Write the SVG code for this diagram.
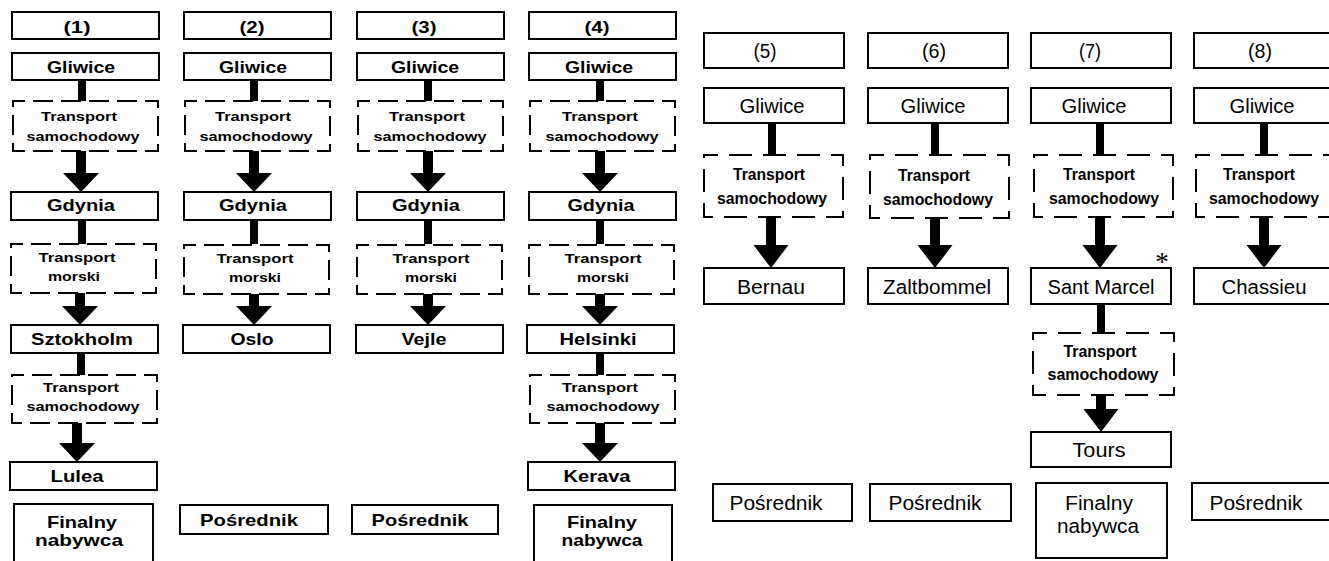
<svg xmlns="http://www.w3.org/2000/svg" width="1329" height="561" viewBox="0 0 1329 561">
  <style>
    .box { fill: #fff; stroke: #000; stroke-width: 2; }
    .dl { fill: #fff; stroke: #000; stroke-width: 2; stroke-dasharray: 20 8; stroke-dashoffset: 8; }
    .dr { fill: #fff; stroke: #000; stroke-width: 2; stroke-dasharray: 23 11; stroke-dashoffset: 9; }
    .bar { stroke: #000; stroke-width: 8; }
    .shaft { stroke: #000; stroke-width: 10; }
    text { font-family: "Liberation Sans", Arial, sans-serif; fill: #000; text-anchor: middle; }
    .lh { font-size: 16px; font-weight: bold; }
    .lc { font-size: 16px; font-weight: bold; }
    .lt { font-size: 13px; font-weight: bold; }
    .lf { font-size: 17px; font-weight: bold; }
    .rh { font-size: 20px; }
    .rc { font-size: 20px; }
    .rt { font-size: 16px; font-weight: bold; }
    .ast { font-family: "Liberation Serif", serif; font-size: 27px; }
  </style>
  <defs>
    <marker id="headL" markerUnits="userSpaceOnUse" markerWidth="40" markerHeight="40" refX="0" refY="0" viewBox="0 -20 20 40" orient="auto" overflow="visible">
      <path d="M0,-18 L19,0 L0,18 Z" fill="#000"/>
    </marker>
    <marker id="headR" markerUnits="userSpaceOnUse" markerWidth="40" markerHeight="40" refX="0" refY="0" viewBox="0 -20 24 40" orient="auto" overflow="visible">
      <path d="M0,-17.5 L23,0 L0,17.5 Z" fill="#000"/>
    </marker>
  </defs>

  <!-- connectors: solid bars leave a place, arrows enter the next one -->
  <g id="connectors">
    <!-- route 1 -->
    <line class="bar" x1="82" y1="80" x2="82" y2="101"/>
    <line class="shaft" x1="81" y1="151" x2="81" y2="173" marker-end="url(#headL)"/>
    <line class="bar" x1="82" y1="220" x2="82" y2="244"/>
    <line class="shaft" x1="80" y1="293" x2="80" y2="306" marker-end="url(#headL)"/>
    <line class="bar" x1="81" y1="353" x2="81" y2="375"/>
    <line class="shaft" x1="77" y1="423" x2="77" y2="443" marker-end="url(#headL)"/>
    <!-- route 2 -->
    <line class="bar" x1="254" y1="80" x2="254" y2="101"/>
    <line class="shaft" x1="254" y1="151" x2="254" y2="173" marker-end="url(#headL)"/>
    <line class="bar" x1="254" y1="220" x2="254" y2="244"/>
    <line class="shaft" x1="254" y1="293" x2="254" y2="306" marker-end="url(#headL)"/>
    <!-- route 3 -->
    <line class="bar" x1="428" y1="80" x2="428" y2="101"/>
    <line class="shaft" x1="428" y1="151" x2="428" y2="173" marker-end="url(#headL)"/>
    <line class="bar" x1="428" y1="220" x2="428" y2="244"/>
    <line class="shaft" x1="428" y1="293" x2="428" y2="306" marker-end="url(#headL)"/>
    <!-- route 4 -->
    <line class="bar" x1="600" y1="80" x2="600" y2="101"/>
    <line class="shaft" x1="600" y1="151" x2="600" y2="173" marker-end="url(#headL)"/>
    <line class="bar" x1="600" y1="220" x2="600" y2="244"/>
    <line class="shaft" x1="600" y1="293" x2="600" y2="306" marker-end="url(#headL)"/>
    <line class="bar" x1="600" y1="353" x2="600" y2="375"/>
    <line class="shaft" x1="600" y1="423" x2="600" y2="443" marker-end="url(#headL)"/>
    <!-- route 5 -->
    <line class="bar" x1="772" y1="123" x2="772" y2="155"/>
    <line class="shaft" x1="771" y1="217" x2="771" y2="245" marker-end="url(#headR)"/>
    <!-- route 6 -->
    <line class="bar" x1="935" y1="123" x2="935" y2="155"/>
    <line class="shaft" x1="935" y1="218" x2="935" y2="245" marker-end="url(#headR)"/>
    <!-- route 7 -->
    <line class="bar" x1="1100" y1="123" x2="1100" y2="155"/>
    <line class="shaft" x1="1100" y1="217" x2="1100" y2="245" marker-end="url(#headR)"/>
    <line class="bar" x1="1101" y1="304" x2="1101" y2="333"/>
    <line class="shaft" x1="1101" y1="395" x2="1101" y2="409" marker-end="url(#headR)"/>
    <!-- route 8 -->
    <line class="bar" x1="1264" y1="123" x2="1264" y2="155"/>
    <line class="shaft" x1="1264" y1="217" x2="1264" y2="245" marker-end="url(#headR)"/>
  </g>

  <!-- route 1 -->
  <g id="r1-head"><rect class="box" x="12" y="12" width="147" height="27"/><text class="lh" x="77" y="33" textLength="27" lengthAdjust="spacingAndGlyphs">(1)</text></g>
  <g id="r1-gliwice"><rect class="box" x="12" y="53" width="147" height="27"/><text class="lc" x="81" y="73" textLength="68" lengthAdjust="spacingAndGlyphs">Gliwice</text></g>
  <g id="r1-road1"><rect class="dl" x="13" y="101" width="145" height="50"/><text class="lt" x="79" y="121" textLength="76" lengthAdjust="spacingAndGlyphs">Transport</text><text class="lt" x="83" y="141" textLength="113" lengthAdjust="spacingAndGlyphs">samochodowy</text></g>
  <g id="r1-gdynia"><rect class="box" x="11" y="192" width="147" height="28"/><text class="lc" x="81" y="211" textLength="68" lengthAdjust="spacingAndGlyphs">Gdynia</text></g>
  <g id="r1-sea"><rect class="dl" x="11" y="244" width="145" height="49"/><text class="lt" x="77" y="262" textLength="77" lengthAdjust="spacingAndGlyphs">Transport</text><text class="lt" x="74" y="281" textLength="52" lengthAdjust="spacingAndGlyphs">morski</text></g>
  <g id="r1-sztokholm"><rect class="box" x="11" y="325" width="147" height="28"/><text class="lc" x="82" y="345" textLength="102" lengthAdjust="spacingAndGlyphs">Sztokholm</text></g>
  <g id="r1-road2"><rect class="dl" x="12" y="375" width="145" height="48"/><text class="lt" x="81" y="392" textLength="76" lengthAdjust="spacingAndGlyphs">Transport</text><text class="lt" x="83" y="411" textLength="113" lengthAdjust="spacingAndGlyphs">samochodowy</text></g>
  <g id="r1-lulea"><rect class="box" x="10" y="462" width="147" height="28"/><text class="lc" x="77" y="482" textLength="53" lengthAdjust="spacingAndGlyphs">Lulea</text></g>
  <g id="r1-buyer"><rect class="box" x="14" y="504" width="139" height="62"/><text class="lf" x="82" y="528" textLength="70" lengthAdjust="spacingAndGlyphs">Finalny</text><text class="lf" x="79" y="546" textLength="88" lengthAdjust="spacingAndGlyphs">nabywca</text></g>

  <!-- route 2 -->
  <g id="r2-head"><rect class="box" x="184" y="12" width="147" height="27"/><text class="lh" x="252" y="33" textLength="25" lengthAdjust="spacingAndGlyphs">(2)</text></g>
  <g id="r2-gliwice"><rect class="box" x="184" y="53" width="147" height="27"/><text class="lc" x="253" y="73" textLength="68" lengthAdjust="spacingAndGlyphs">Gliwice</text></g>
  <g id="r2-road"><rect class="dl" x="185" y="101" width="145" height="50"/><text class="lt" x="253" y="121" textLength="76" lengthAdjust="spacingAndGlyphs">Transport</text><text class="lt" x="256" y="141" textLength="113" lengthAdjust="spacingAndGlyphs">samochodowy</text></g>
  <g id="r2-gdynia"><rect class="box" x="184" y="192" width="147" height="28"/><text class="lc" x="253" y="211" textLength="68" lengthAdjust="spacingAndGlyphs">Gdynia</text></g>
  <g id="r2-sea"><rect class="dl" x="184" y="245" width="145" height="49"/><text class="lt" x="255" y="263" textLength="77" lengthAdjust="spacingAndGlyphs">Transport</text><text class="lt" x="255" y="282" textLength="52" lengthAdjust="spacingAndGlyphs">morski</text></g>
  <g id="r2-oslo"><rect class="box" x="183" y="325" width="147" height="28"/><text class="lc" x="252" y="345" textLength="43" lengthAdjust="spacingAndGlyphs">Oslo</text></g>
  <g id="r2-agent"><rect class="box" x="180" y="505" width="148" height="29"/><text class="lf" x="249" y="526" textLength="98" lengthAdjust="spacingAndGlyphs">Pośrednik</text></g>

  <!-- route 3 -->
  <g id="r3-head"><rect class="box" x="357" y="12" width="147" height="27"/><text class="lh" x="424" y="33" textLength="25" lengthAdjust="spacingAndGlyphs">(3)</text></g>
  <g id="r3-gliwice"><rect class="box" x="357" y="53" width="147" height="27"/><text class="lc" x="425" y="73" textLength="68" lengthAdjust="spacingAndGlyphs">Gliwice</text></g>
  <g id="r3-road"><rect class="dl" x="358" y="101" width="145" height="50"/><text class="lt" x="427" y="121" textLength="76" lengthAdjust="spacingAndGlyphs">Transport</text><text class="lt" x="430" y="141" textLength="113" lengthAdjust="spacingAndGlyphs">samochodowy</text></g>
  <g id="r3-gdynia"><rect class="box" x="357" y="192" width="147" height="28"/><text class="lc" x="426" y="211" textLength="68" lengthAdjust="spacingAndGlyphs">Gdynia</text></g>
  <g id="r3-sea"><rect class="dl" x="357" y="245" width="145" height="49"/><text class="lt" x="431" y="263" textLength="77" lengthAdjust="spacingAndGlyphs">Transport</text><text class="lt" x="431" y="282" textLength="52" lengthAdjust="spacingAndGlyphs">morski</text></g>
  <g id="r3-vejle"><rect class="box" x="356" y="325" width="147" height="28"/><text class="lc" x="424" y="345" textLength="45" lengthAdjust="spacingAndGlyphs">Vejle</text></g>
  <g id="r3-agent"><rect class="box" x="352" y="505" width="146" height="29"/><text class="lf" x="420" y="526" textLength="97" lengthAdjust="spacingAndGlyphs">Pośrednik</text></g>

  <!-- route 4 -->
  <g id="r4-head"><rect class="box" x="529" y="12" width="147" height="27"/><text class="lh" x="597" y="33" textLength="25" lengthAdjust="spacingAndGlyphs">(4)</text></g>
  <g id="r4-gliwice"><rect class="box" x="529" y="53" width="147" height="27"/><text class="lc" x="599" y="73" textLength="68" lengthAdjust="spacingAndGlyphs">Gliwice</text></g>
  <g id="r4-road1"><rect class="dl" x="530" y="101" width="145" height="50"/><text class="lt" x="600" y="121" textLength="76" lengthAdjust="spacingAndGlyphs">Transport</text><text class="lt" x="602" y="141" textLength="113" lengthAdjust="spacingAndGlyphs">samochodowy</text></g>
  <g id="r4-gdynia"><rect class="box" x="529" y="192" width="147" height="28"/><text class="lc" x="601" y="211" textLength="67" lengthAdjust="spacingAndGlyphs">Gdynia</text></g>
  <g id="r4-sea"><rect class="dl" x="529" y="245" width="145" height="49"/><text class="lt" x="603" y="263" textLength="77" lengthAdjust="spacingAndGlyphs">Transport</text><text class="lt" x="603" y="282" textLength="52" lengthAdjust="spacingAndGlyphs">morski</text></g>
  <g id="r4-helsinki"><rect class="box" x="527" y="325" width="147" height="28"/><text class="lc" x="598" y="345" textLength="77" lengthAdjust="spacingAndGlyphs">Helsinki</text></g>
  <g id="r4-road2"><rect class="dl" x="530" y="375" width="145" height="48"/><text class="lt" x="600" y="392" textLength="76" lengthAdjust="spacingAndGlyphs">Transport</text><text class="lt" x="603" y="411" textLength="113" lengthAdjust="spacingAndGlyphs">samochodowy</text></g>
  <g id="r4-kerava"><rect class="box" x="528" y="462" width="147" height="28"/><text class="lc" x="597" y="482" textLength="67" lengthAdjust="spacingAndGlyphs">Kerava</text></g>
  <g id="r4-buyer"><rect class="box" x="534" y="505" width="138" height="62"/><text class="lf" x="602" y="528" textLength="70" lengthAdjust="spacingAndGlyphs">Finalny</text><text class="lf" x="602" y="546" textLength="81" lengthAdjust="spacingAndGlyphs">nabywca</text></g>

  <!-- route 5 -->
  <g id="r5-head"><rect class="box" x="704" y="33" width="140" height="35"/><text class="rh" x="765" y="58" textLength="23" lengthAdjust="spacingAndGlyphs">(5)</text></g>
  <g id="r5-gliwice"><rect class="box" x="704" y="88" width="140" height="35"/><text class="rc" x="772" y="113" textLength="65" lengthAdjust="spacingAndGlyphs">Gliwice</text></g>
  <g id="r5-road"><rect class="dr" x="704" y="155" width="139" height="62"/><text class="rt" x="769" y="180" textLength="72" lengthAdjust="spacingAndGlyphs">Transport</text><text class="rt" x="772" y="204" textLength="110" lengthAdjust="spacingAndGlyphs">samochodowy</text></g>
  <g id="r5-bernau"><rect class="box" x="704" y="268" width="140" height="36"/><text class="rc" x="771" y="294" textLength="68" lengthAdjust="spacingAndGlyphs">Bernau</text></g>
  <g id="r5-agent"><rect class="box" x="713" y="484" width="139" height="37"/><text class="rc" x="776" y="510" textLength="93" lengthAdjust="spacingAndGlyphs">Pośrednik</text></g>

  <!-- route 6 -->
  <g id="r6-head"><rect class="box" x="868" y="33" width="140" height="35"/><text class="rh" x="934" y="58" textLength="24" lengthAdjust="spacingAndGlyphs">(6)</text></g>
  <g id="r6-gliwice"><rect class="box" x="868" y="88" width="140" height="35"/><text class="rc" x="933" y="113" textLength="65" lengthAdjust="spacingAndGlyphs">Gliwice</text></g>
  <g id="r6-road"><rect class="dr" x="870" y="155" width="139" height="63"/><text class="rt" x="934" y="181" textLength="72" lengthAdjust="spacingAndGlyphs">Transport</text><text class="rt" x="938" y="205" textLength="110" lengthAdjust="spacingAndGlyphs">samochodowy</text></g>
  <g id="r6-zaltbommel"><rect class="box" x="868" y="268" width="140" height="36"/><text class="rc" x="937" y="294" textLength="108" lengthAdjust="spacingAndGlyphs">Zaltbommel</text></g>
  <g id="r6-agent"><rect class="box" x="870" y="484" width="141" height="37"/><text class="rc" x="935" y="510" textLength="93" lengthAdjust="spacingAndGlyphs">Pośrednik</text></g>

  <!-- route 7 -->
  <g id="r7-head"><rect class="box" x="1031" y="33" width="140" height="35"/><text class="rh" x="1090" y="58" textLength="22" lengthAdjust="spacingAndGlyphs">(7)</text></g>
  <g id="r7-gliwice"><rect class="box" x="1031" y="88" width="140" height="35"/><text class="rc" x="1094" y="113" textLength="65" lengthAdjust="spacingAndGlyphs">Gliwice</text></g>
  <g id="r7-road1"><rect class="dr" x="1034" y="155" width="139" height="62"/><text class="rt" x="1099" y="180" textLength="72" lengthAdjust="spacingAndGlyphs">Transport</text><text class="rt" x="1104" y="204" textLength="110" lengthAdjust="spacingAndGlyphs">samochodowy</text></g>
  <g id="r7-santmarcel"><rect class="box" x="1031" y="268" width="140" height="36"/><text class="rc" x="1101" y="294" textLength="107" lengthAdjust="spacingAndGlyphs">Sant Marcel</text><text class="ast" x="1162" y="271">*</text></g>
  <g id="r7-road2"><rect class="dr" x="1033" y="333" width="141" height="62"/><text class="rt" x="1100" y="357" textLength="73" lengthAdjust="spacingAndGlyphs">Transport</text><text class="rt" x="1103" y="380" textLength="111" lengthAdjust="spacingAndGlyphs">samochodowy</text></g>
  <g id="r7-tours"><rect class="box" x="1031" y="432" width="140" height="35"/><text class="rc" x="1099" y="457" textLength="53" lengthAdjust="spacingAndGlyphs">Tours</text></g>
  <g id="r7-buyer"><rect class="box" x="1036" y="483" width="131" height="75"/><text class="rc" x="1099" y="510" textLength="68" lengthAdjust="spacingAndGlyphs">Finalny</text><text class="rc" x="1098" y="533" textLength="82" lengthAdjust="spacingAndGlyphs">nabywca</text></g>

  <!-- route 8 -->
  <g id="r8-head"><rect class="box" x="1194" y="33" width="140" height="35"/><text class="rh" x="1260" y="58" textLength="24" lengthAdjust="spacingAndGlyphs">(8)</text></g>
  <g id="r8-gliwice"><rect class="box" x="1194" y="88" width="140" height="35"/><text class="rc" x="1262" y="113" textLength="65" lengthAdjust="spacingAndGlyphs">Gliwice</text></g>
  <g id="r8-road"><rect class="dr" x="1196" y="155" width="139" height="62"/><text class="rt" x="1259" y="180" textLength="72" lengthAdjust="spacingAndGlyphs">Transport</text><text class="rt" x="1264" y="204" textLength="110" lengthAdjust="spacingAndGlyphs">samochodowy</text></g>
  <g id="r8-chassieu"><rect class="box" x="1194" y="268" width="140" height="36"/><text class="rc" x="1264" y="294" textLength="85" lengthAdjust="spacingAndGlyphs">Chassieu</text></g>
  <g id="r8-agent"><rect class="box" x="1192" y="483" width="141" height="37"/><text class="rc" x="1256" y="510" textLength="93" lengthAdjust="spacingAndGlyphs">Pośrednik</text></g>
</svg>
